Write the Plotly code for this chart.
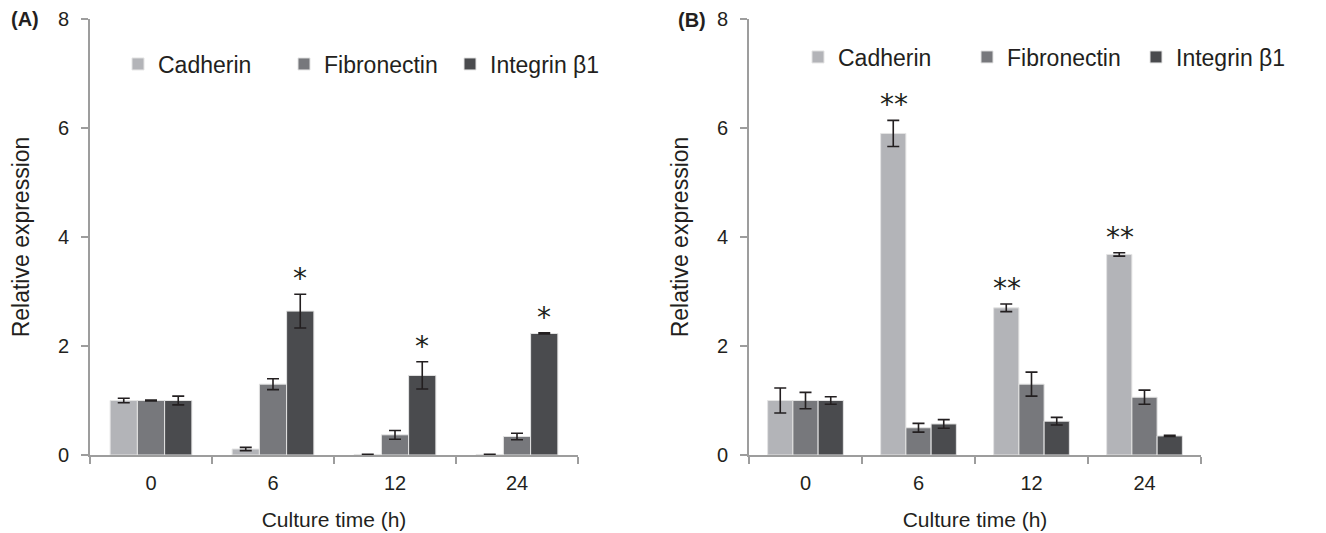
import plotly.graph_objects as go

categories = ["0", "6", "12", "24"]
genes = ["Cadherin", "Fibronectin", "Integrin β1"]

# Panel A
a_cadherin = [1.00, 0.11, 0.01, 0.01]
a_cadherin_err = [0.04, 0.03, 0.005, 0.005]
a_fibronectin = [1.00, 1.30, 0.37, 0.34]
a_fibronectin_err = [0.01, 0.10, 0.08, 0.06]
a_integrin = [1.00, 2.64, 1.46, 2.23]
a_integrin_err = [0.08, 0.31, 0.25, 0.01]
a_marks = ["", "*", "*", "*"]          # significance over Integrin β1

# Panel B
b_cadherin = [1.00, 5.90, 2.70, 3.68]
b_cadherin_err = [0.23, 0.24, 0.07, 0.03]
b_fibronectin = [1.00, 0.50, 1.30, 1.06]
b_fibronectin_err = [0.15, 0.08, 0.22, 0.13]
b_integrin = [1.00, 0.57, 0.62, 0.35]
b_integrin_err = [0.07, 0.08, 0.07, 0.01]
b_marks = ["", "**", "**", "**"]       # significance over Cadherin

y_ticks = [0, 2, 4, 6, 8]

colors = ["#b3b4b8", "#77787c", "#4a4b4e"]
txt = "#231f20"
axis_col = "#9d9d9d"
FONT = "Liberation Sans, Arial, sans-serif"

W, H = 1326, 533
BODY = 8  # default page margin around the figure


def xp(px):
    return (px - BODY) / W


def yp(py):
    return 1 - (py - BODY) / H


fig = go.Figure()

panels = [
    ("x", "y", "legend", [(a_cadherin, a_cadherin_err), (a_fibronectin, a_fibronectin_err), (a_integrin, a_integrin_err)]),
    ("x2", "y2", "legend2", [(b_cadherin, b_cadherin_err), (b_fibronectin, b_fibronectin_err), (b_integrin, b_integrin_err)]),
]

for xa, ya, lg, series in panels:
    for name, col, (vals, errs) in zip(genes, colors, series):
        fig.add_trace(go.Bar(
            x=categories, y=vals, name=name, xaxis=xa, yaxis=ya, legend=lg,
            marker=dict(color=col, line=dict(color="#e4e4e4", width=1)),
            error_y=dict(type="data", array=errs, visible=True, color=txt, thickness=1.6, width=6),
        ))

# significance marks (x given as category index)
for xref, yref, vals, errs, marks, shift in [("x", "y", a_integrin, a_integrin_err, a_marks, 27),
                                             ("x2", "y2", b_cadherin, b_cadherin_err, b_marks, -25)]:
    for i, (v, e, m) in enumerate(zip(vals, errs, marks)):
        if not m:
            continue
        fig.add_annotation(
            x=i, y=v + e, xref=xref, yref=yref, text=m, showarrow=False,
            yanchor="bottom", yshift=-3, xshift=shift,
            font=dict(family="DejaVu Sans", size=28, color=txt),
        )

axis_common = dict(
    showline=True, linecolor=axis_col, linewidth=1.6,
    ticks="outside", tickcolor=axis_col, tickwidth=1.5, ticklen=7,
    tickfont=dict(family=FONT, size=20, color=txt),
    showgrid=False, zeroline=False, automargin=False,
)

x_title = dict(text="Culture time (h)", font=dict(family=FONT, size=21, color=txt), standoff=20)
y_title = dict(text="Relative expression", font=dict(family=FONT, size=23, color=txt), standoff=22)
ydom = [yp(455), yp(19)]

fig.update_layout(
    template="none",
    width=W, height=H,
    paper_bgcolor="white", plot_bgcolor="white",
    margin=dict(l=0, r=0, t=0, b=0, pad=0),
    barmode="group", bargap=0.33, bargroupgap=0,
    font=dict(family=FONT, color=txt),
    xaxis=dict(domain=[xp(90), xp(578)], type="category", tickson="boundaries", anchor="y",
               range=[-0.5, 3.5], ticklabelstandoff=9, title=x_title, **axis_common),
    xaxis2=dict(domain=[xp(749), xp(1201)], type="category", tickson="boundaries", anchor="y2",
                range=[-0.5, 3.5], ticklabelstandoff=9, title=x_title, **axis_common),
    yaxis=dict(domain=ydom, range=[0, 8], tickvals=y_ticks, anchor="x",
               ticklabelstandoff=8, title=y_title, **axis_common),
    yaxis2=dict(domain=ydom, range=[0, 8], tickvals=y_ticks, anchor="x2",
                ticklabelstandoff=8, title=y_title, **axis_common),
    legend=dict(orientation="h", x=xp(118), xanchor="left", y=yp(64), yanchor="middle",
                entrywidth=121, entrywidthmode="pixels", bgcolor="rgba(0,0,0,0)",
                font=dict(family=FONT, size=23, color=txt)),
    legend2=dict(orientation="h", x=xp(798), xanchor="left", y=yp(57), yanchor="middle",
                 entrywidth=124, entrywidthmode="pixels", bgcolor="rgba(0,0,0,0)",
                 font=dict(family=FONT, size=23, color=txt)),
)

fig.add_annotation(x=xp(9), y=yp(19), xref="paper", yref="paper", text="<b>(A)</b>",
                   showarrow=False, xanchor="left", yanchor="middle",
                   font=dict(family=FONT, size=20, color=txt))
fig.add_annotation(x=xp(676), y=yp(20), xref="paper", yref="paper", text="<b>(B)</b>",
                   showarrow=False, xanchor="left", yanchor="middle",
                   font=dict(family=FONT, size=20, color=txt))

fig.write_html("out.html")
